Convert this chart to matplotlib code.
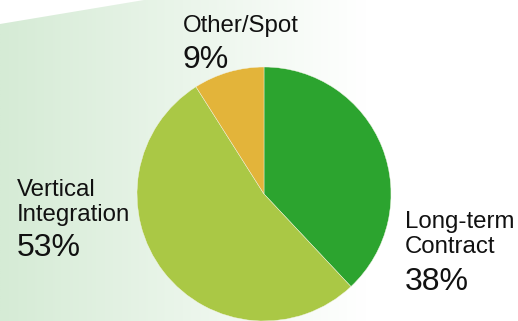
import numpy as np
import matplotlib.pyplot as plt
from matplotlib.patches import Polygon
from matplotlib.colors import to_rgb

plt.rcParams['font.family'] = ['Liberation Sans', 'DejaVu Sans']

labels = ['Long-term\nContract', 'Vertical\nIntegration', 'Other/Spot']
shares = [38, 53, 9]
colors = ['#2ca42f', '#aac845', '#e3b43a']

W, H = 518, 321
fig = plt.figure(figsize=(W / 100, H / 100), dpi=100)
ax = fig.add_axes([0, 0, 1, 1])
ax.set_xlim(0, W)
ax.set_ylim(0, H)
ax.set_aspect('equal')
ax.axis('off')

# pale green wash fading to white, with a slanted top edge
left = np.array(to_rgb('#d5ebd5'))
xs = np.linspace(0, 1, 400)
t = np.clip(xs * W / 365, 0, 1)[None, :, None]
grad = left * (1 - t) + np.ones(3) * t
img = ax.imshow(np.repeat(grad, 2, axis=0), extent=[0, W, 0, H],
                aspect='auto', zorder=0, interpolation='bilinear')
clip = Polygon([(0, 0), (0, H - 24), (144, H), (W, H), (W, 0)],
               transform=ax.transData, facecolor='none', edgecolor='none')
ax.add_patch(clip)
img.set_clip_path(clip)

ax.pie(shares, colors=colors, startangle=90, counterclock=False,
       center=(264, H - 194), radius=127, frame=True,
       wedgeprops=dict(linewidth=0.3, edgecolor='#f4f4e8'))
ax.set_xlim(0, W)
ax.set_ylim(0, H)
ax.axis('off')

# label blocks: (x, baseline of last name line, baseline of percent)
spots = [(405, 253, 290), (17, 221, 256), (183, 32, 68)]
for lab, v, (x, yl, yp) in zip(labels, shares, spots):
    ax.text(x, H - yl, lab, fontsize=17.3, ha='left', va='baseline',
            linespacing=1.2, color='#111111')
    ax.text(x, H - yp, f'{v}%', fontsize=23, ha='left', va='baseline',
            color='#111111')

fig.savefig('out.png', dpi=100)
